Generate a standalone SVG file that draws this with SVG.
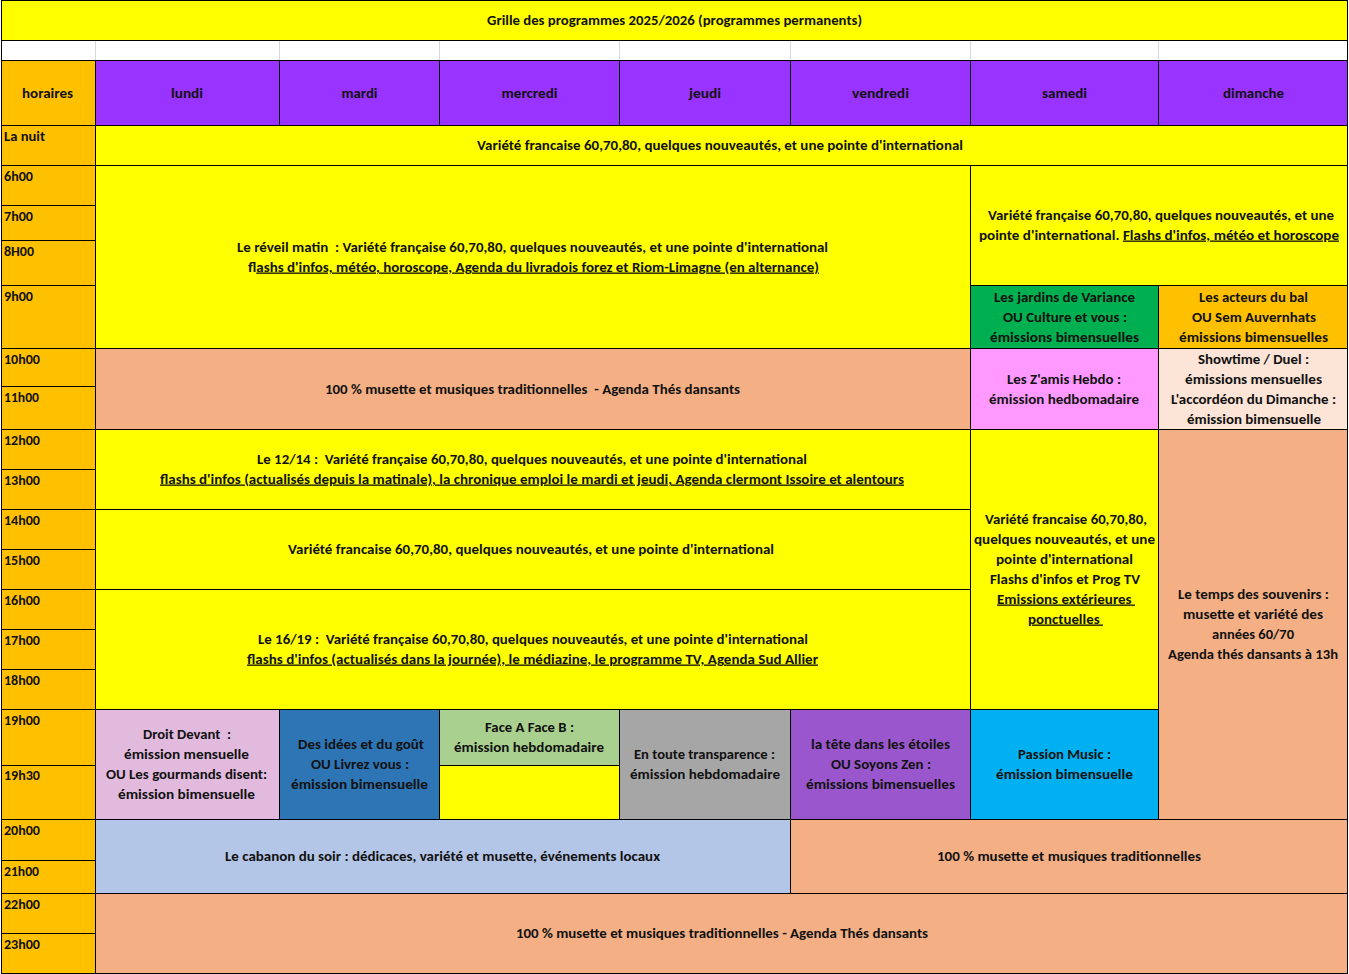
<svg xmlns="http://www.w3.org/2000/svg" width="1349" height="974" viewBox="0 0 1349 974">
<style>
text{font-family:Carlito,Calibri,Lato,"Liberation Sans",sans-serif;font-weight:bold;font-size:13px;fill:#111;}
.m{text-anchor:middle;}
.u{text-decoration:underline;}
rect.c{stroke:#000;stroke-width:1;}
.y{fill:#FFFF00}.h{fill:#9933FF}.t{fill:#FFC000}.s{fill:#F4B084}
</style>
<rect x="0" y="0" width="1349" height="974" fill="#fff"/>
<g id="title"><rect class="c y" x="1.5" y="0.5" width="1346" height="40"/>
<text class="m" x="674.5" y="24.5" textLength="375" lengthAdjust="spacingAndGlyphs">Grille des programmes 2025/2026 (programmes permanents)</text></g>
<g id="blank-row"><rect x="1.5" y="40.5" width="1346" height="20" fill="#fff" stroke="#000"/>
<g stroke="#D9D9D9"><line x1="95.5" y1="41" x2="95.5" y2="60"/><line x1="279.5" y1="41" x2="279.5" y2="60"/><line x1="439.5" y1="41" x2="439.5" y2="60"/><line x1="619.5" y1="41" x2="619.5" y2="60"/><line x1="790.5" y1="41" x2="790.5" y2="60"/><line x1="970.5" y1="41" x2="970.5" y2="60"/><line x1="1158.5" y1="41" x2="1158.5" y2="60"/></g></g>
<g id="header">
<rect class="c t" x="1.5" y="60.5" width="94" height="65"/><text class="m" x="47.5" y="97.5" textLength="51" lengthAdjust="spacingAndGlyphs">horaires</text>
<rect class="c h" x="95.5" y="60.5" width="184" height="65"/><text class="m" x="187" y="97.5" textLength="32" lengthAdjust="spacingAndGlyphs">lundi</text>
<rect class="c h" x="279.5" y="60.5" width="160" height="65"/><text class="m" x="359.5" y="97.5" textLength="36" lengthAdjust="spacingAndGlyphs">mardi</text>
<rect class="c h" x="439.5" y="60.5" width="180" height="65"/><text class="m" x="529.5" y="97.5" textLength="56" lengthAdjust="spacingAndGlyphs">mercredi</text>
<rect class="c h" x="619.5" y="60.5" width="171" height="65"/><text class="m" x="705" y="97.5" textLength="32" lengthAdjust="spacingAndGlyphs">jeudi</text>
<rect class="c h" x="790.5" y="60.5" width="180" height="65"/><text class="m" x="880.5" y="97.5" textLength="57" lengthAdjust="spacingAndGlyphs">vendredi</text>
<rect class="c h" x="970.5" y="60.5" width="188" height="65"/><text class="m" x="1064.5" y="97.5" textLength="45" lengthAdjust="spacingAndGlyphs">samedi</text>
<rect class="c h" x="1158.5" y="60.5" width="189" height="65"/><text class="m" x="1253.5" y="97.5" textLength="61" lengthAdjust="spacingAndGlyphs">dimanche</text>
</g>
<g id="hours">
<rect class="c t" x="1.5" y="125.5" width="94" height="40"/><text x="4" y="140.5" textLength="41" lengthAdjust="spacingAndGlyphs">La nuit</text>
<rect class="c t" x="1.5" y="165.5" width="94" height="40"/><text x="4" y="180.5" textLength="29" lengthAdjust="spacingAndGlyphs">6h00</text>
<rect class="c t" x="1.5" y="205.5" width="94" height="35"/><text x="4" y="220.5" textLength="29" lengthAdjust="spacingAndGlyphs">7h00</text>
<rect class="c t" x="1.5" y="240.5" width="94" height="45"/><text x="4" y="255.5" textLength="30" lengthAdjust="spacingAndGlyphs">8H00</text>
<rect class="c t" x="1.5" y="285.5" width="94" height="63"/><text x="4" y="300.5" textLength="29" lengthAdjust="spacingAndGlyphs">9h00</text>
<rect class="c t" x="1.5" y="348.5" width="94" height="38"/><text x="4" y="363.5" textLength="36" lengthAdjust="spacingAndGlyphs">10h00</text>
<rect class="c t" x="1.5" y="386.5" width="94" height="43"/><text x="4" y="401.5" textLength="35" lengthAdjust="spacingAndGlyphs">11h00</text>
<rect class="c t" x="1.5" y="429.5" width="94" height="40"/><text x="4" y="444.5" textLength="36" lengthAdjust="spacingAndGlyphs">12h00</text>
<rect class="c t" x="1.5" y="469.5" width="94" height="40"/><text x="4" y="484.5" textLength="36" lengthAdjust="spacingAndGlyphs">13h00</text>
<rect class="c t" x="1.5" y="509.5" width="94" height="40"/><text x="4" y="524.5" textLength="36" lengthAdjust="spacingAndGlyphs">14h00</text>
<rect class="c t" x="1.5" y="549.5" width="94" height="40"/><text x="4" y="564.5" textLength="36" lengthAdjust="spacingAndGlyphs">15h00</text>
<rect class="c t" x="1.5" y="589.5" width="94" height="40"/><text x="4" y="604.5" textLength="36" lengthAdjust="spacingAndGlyphs">16h00</text>
<rect class="c t" x="1.5" y="629.5" width="94" height="40"/><text x="4" y="644.5" textLength="36" lengthAdjust="spacingAndGlyphs">17h00</text>
<rect class="c t" x="1.5" y="669.5" width="94" height="40"/><text x="4" y="684.5" textLength="36" lengthAdjust="spacingAndGlyphs">18h00</text>
<rect class="c t" x="1.5" y="709.5" width="94" height="56"/><text x="4" y="724.5" textLength="36" lengthAdjust="spacingAndGlyphs">19h00</text>
<rect class="c t" x="1.5" y="765.5" width="94" height="54"/><text x="4" y="779.5" textLength="36" lengthAdjust="spacingAndGlyphs">19h30</text>
<rect class="c t" x="1.5" y="819.5" width="94" height="41"/><text x="4" y="834.5" textLength="36" lengthAdjust="spacingAndGlyphs">20h00</text>
<rect class="c t" x="1.5" y="860.5" width="94" height="33"/><text x="4" y="875.5" textLength="35" lengthAdjust="spacingAndGlyphs">21h00</text>
<rect class="c t" x="1.5" y="893.5" width="94" height="40"/><text x="4" y="908.5" textLength="36" lengthAdjust="spacingAndGlyphs">22h00</text>
<rect class="c t" x="1.5" y="933.5" width="94" height="40"/><text x="4" y="948.5" textLength="36" lengthAdjust="spacingAndGlyphs">23h00</text>
</g>
<g id="nuit"><rect class="c y" x="95.5" y="125.5" width="1252" height="40"/>
<text class="m" x="720" y="149.5" textLength="486" lengthAdjust="spacingAndGlyphs">Variété francaise 60,70,80, quelques nouveautés, et une pointe d'international</text></g>
<g id="reveil-matin"><rect class="c y" x="95.5" y="165.5" width="875" height="183"/>
<text class="m" x="532.5" y="251.5" textLength="591" lengthAdjust="spacingAndGlyphs" xml:space="preserve">Le réveil matin  : Variété française 60,70,80, quelques nouveautés, et une pointe d'international</text>
<text class="m" x="533.5" y="271.5" textLength="571" lengthAdjust="spacingAndGlyphs">f<tspan class="u">lashs d'infos, météo, horoscope, Agenda du livradois forez et Riom-Limagne (en alternance)</tspan></text></g>
<g id="samedi-matin"><rect class="c y" x="970.5" y="165.5" width="377" height="120"/>
<text class="m" x="1161" y="219.5" textLength="346" lengthAdjust="spacingAndGlyphs">Variété française 60,70,80, quelques nouveautés, et une</text>
<text class="m" x="1159" y="239.5" textLength="360" lengthAdjust="spacingAndGlyphs" xml:space="preserve">pointe d'international. <tspan class="u">Flashs d'infos, météo et horoscope</tspan></text></g>
<g id="jardins"><rect class="c" fill="#00B050" x="970.5" y="285.5" width="188" height="63"/>
<text class="m" x="1064.5" y="301.5" textLength="141" lengthAdjust="spacingAndGlyphs">Les jardins de Variance</text>
<text class="m" x="1065" y="321.5" textLength="124" lengthAdjust="spacingAndGlyphs">OU Culture et vous :</text>
<text class="m" x="1064.5" y="341.5" textLength="149" lengthAdjust="spacingAndGlyphs">émissions bimensuelles</text></g>
<g id="acteurs"><rect class="c t" x="1158.5" y="285.5" width="189" height="63"/>
<text class="m" x="1253.5" y="301.5" textLength="109" lengthAdjust="spacingAndGlyphs">Les acteurs du bal</text>
<text class="m" x="1254" y="321.5" textLength="124" lengthAdjust="spacingAndGlyphs">OU Sem Auvernhats</text>
<text class="m" x="1253.5" y="341.5" textLength="149" lengthAdjust="spacingAndGlyphs">émissions bimensuelles</text></g>
<g id="musette-matin"><rect class="c s" x="95.5" y="348.5" width="875" height="81"/>
<text class="m" x="532.5" y="393.5" textLength="415" lengthAdjust="spacingAndGlyphs" xml:space="preserve">100 % musette et musiques traditionnelles  - Agenda Thés dansants</text></g>
<g id="zamis"><rect class="c" fill="#FF99FF" x="970.5" y="348.5" width="188" height="81"/>
<text class="m" x="1064" y="383.5" textLength="114" lengthAdjust="spacingAndGlyphs">Les Z'amis Hebdo :</text>
<text class="m" x="1064" y="403.5" textLength="150" lengthAdjust="spacingAndGlyphs">émission hedbomadaire</text></g>
<g id="showtime"><rect class="c" fill="#FCE4D6" x="1158.5" y="348.5" width="189" height="81"/>
<text class="m" x="1253.5" y="363.5" textLength="111" lengthAdjust="spacingAndGlyphs">Showtime / Duel :</text>
<text class="m" x="1253.5" y="383.5" textLength="137" lengthAdjust="spacingAndGlyphs">émissions mensuelles</text>
<text class="m" x="1253.5" y="403.5" textLength="165" lengthAdjust="spacingAndGlyphs">L'accordéon du Dimanche :</text>
<text class="m" x="1254" y="423.5" textLength="134" lengthAdjust="spacingAndGlyphs">émission bimensuelle</text></g>
<g id="le-12-14"><rect class="c y" x="95.5" y="429.5" width="875" height="80"/>
<text class="m" x="532" y="463.5" textLength="550" lengthAdjust="spacingAndGlyphs" xml:space="preserve">Le 12/14 :  Variété française 60,70,80, quelques nouveautés, et une pointe d'international</text>
<text class="m u" x="532" y="483.5" textLength="744" lengthAdjust="spacingAndGlyphs">flashs d'infos (actualisés depuis la matinale), la chronique emploi le mardi et jeudi, Agenda clermont Issoire et alentours</text></g>
<g id="apres-midi"><rect class="c y" x="95.5" y="509.5" width="875" height="80"/>
<text class="m" x="531" y="553.5" textLength="486" lengthAdjust="spacingAndGlyphs">Variété francaise 60,70,80, quelques nouveautés, et une pointe d'international</text></g>
<g id="le-16-19"><rect class="c y" x="95.5" y="589.5" width="875" height="120"/>
<text class="m" x="533" y="643.5" textLength="550" lengthAdjust="spacingAndGlyphs" xml:space="preserve">Le 16/19 :  Variété française 60,70,80, quelques nouveautés, et une pointe d'international</text>
<text class="m u" x="532.5" y="663.5" textLength="571" lengthAdjust="spacingAndGlyphs">flashs d'infos (actualisés dans la journée), le médiazine, le programme TV, Agenda Sud Allier</text></g>
<g id="samedi-apres-midi"><rect class="c y" x="970.5" y="429.5" width="188" height="280"/>
<text class="m" x="1066" y="523.5" textLength="162" lengthAdjust="spacingAndGlyphs">Variété francaise 60,70,80,</text>
<text class="m" x="1064.5" y="543.5" textLength="181" lengthAdjust="spacingAndGlyphs">quelques nouveautés, et une</text>
<text class="m" x="1064.5" y="563.5" textLength="137" lengthAdjust="spacingAndGlyphs">pointe d'international</text>
<text class="m" x="1065" y="583.5" textLength="150" lengthAdjust="spacingAndGlyphs">Flashs d'infos et Prog TV</text>
<text class="m u" x="1066" y="603.5" textLength="138" lengthAdjust="spacingAndGlyphs" xml:space="preserve">Emissions extérieures </text>
<text class="m u" x="1065.5" y="623.5" textLength="75" lengthAdjust="spacingAndGlyphs" xml:space="preserve">ponctuelles </text></g>
<g id="temps-des-souvenirs"><rect class="c s" x="1158.5" y="429.5" width="189" height="390"/>
<text class="m" x="1253.5" y="598.5" textLength="151" lengthAdjust="spacingAndGlyphs">Le temps des souvenirs :</text>
<text class="m" x="1253" y="618.5" textLength="140" lengthAdjust="spacingAndGlyphs">musette et variété des</text>
<text class="m" x="1253" y="638.5" textLength="82" lengthAdjust="spacingAndGlyphs">années 60/70</text>
<text class="m" x="1253" y="658.5" textLength="170" lengthAdjust="spacingAndGlyphs">Agenda thés dansants à 13h</text></g>
<g id="droit-devant"><rect class="c" fill="#E2BADE" x="95.5" y="709.5" width="184" height="110"/>
<text class="m" x="187" y="738.5" textLength="88" lengthAdjust="spacingAndGlyphs" xml:space="preserve">Droit Devant  :</text>
<text class="m" x="186.5" y="758.5" textLength="125" lengthAdjust="spacingAndGlyphs">émission mensuelle</text>
<text class="m" x="186.5" y="778.5" textLength="161" lengthAdjust="spacingAndGlyphs">OU Les gourmands disent:</text>
<text class="m" x="186.5" y="798.5" textLength="137" lengthAdjust="spacingAndGlyphs">émission bimensuelle</text></g>
<g id="des-idees"><rect class="c" fill="#2E75B6" x="279.5" y="709.5" width="160" height="110"/>
<text class="m" x="361" y="748.5" textLength="126" lengthAdjust="spacingAndGlyphs">Des idées et du goût</text>
<text class="m" x="360" y="768.5" textLength="98" lengthAdjust="spacingAndGlyphs">OU Livrez vous :</text>
<text class="m" x="359.5" y="788.5" textLength="137" lengthAdjust="spacingAndGlyphs">émission bimensuelle</text></g>
<g id="face-a-face-b"><rect class="c" fill="#A9D08E" x="439.5" y="709.5" width="180" height="56"/>
<text class="m" x="529.5" y="731.5" textLength="89" lengthAdjust="spacingAndGlyphs">Face A Face B :</text>
<text class="m" x="529" y="751.5" textLength="150" lengthAdjust="spacingAndGlyphs">émission hebdomadaire</text></g>
<g id="mercredi-soir"><rect class="c y" x="439.5" y="765.5" width="180" height="54"/></g>
<g id="transparence"><rect class="c" fill="#A6A6A6" x="619.5" y="709.5" width="171" height="110"/>
<text class="m" x="704.5" y="758.5" textLength="141" lengthAdjust="spacingAndGlyphs">En toute transparence :</text>
<text class="m" x="705" y="778.5" textLength="150" lengthAdjust="spacingAndGlyphs">émission hebdomadaire</text></g>
<g id="tete-etoiles"><rect class="c" fill="#9A57CD" x="790.5" y="709.5" width="180" height="110"/>
<text class="m" x="880.5" y="748.5" textLength="139" lengthAdjust="spacingAndGlyphs">la tête dans les étoiles</text>
<text class="m" x="881" y="768.5" textLength="100" lengthAdjust="spacingAndGlyphs">OU Soyons Zen :</text>
<text class="m" x="880.5" y="788.5" textLength="149" lengthAdjust="spacingAndGlyphs">émissions bimensuelles</text></g>
<g id="passion-music"><rect class="c" fill="#00B0F0" x="970.5" y="709.5" width="188" height="110"/>
<text class="m" x="1064.5" y="758.5" textLength="93" lengthAdjust="spacingAndGlyphs">Passion Music :</text>
<text class="m" x="1064.5" y="778.5" textLength="137" lengthAdjust="spacingAndGlyphs">émission bimensuelle</text></g>
<g id="cabanon"><rect class="c" fill="#B4C6E7" x="95.5" y="819.5" width="695" height="74"/>
<text class="m" x="442.5" y="860.5" textLength="435" lengthAdjust="spacingAndGlyphs">Le cabanon du soir : dédicaces, variété et musette, événements locaux</text></g>
<g id="musette-soir"><rect class="c s" x="790.5" y="819.5" width="557" height="74"/>
<text class="m" x="1069" y="860.5" textLength="264" lengthAdjust="spacingAndGlyphs">100 % musette et musiques traditionnelles</text></g>
<g id="musette-nuit"><rect class="c s" x="95.5" y="893.5" width="1252" height="80"/>
<text class="m" x="722" y="937.5" textLength="412" lengthAdjust="spacingAndGlyphs">100 % musette et musiques traditionnelles - Agenda Thés dansants</text></g>
<g id="connectors"></g>
</svg>
